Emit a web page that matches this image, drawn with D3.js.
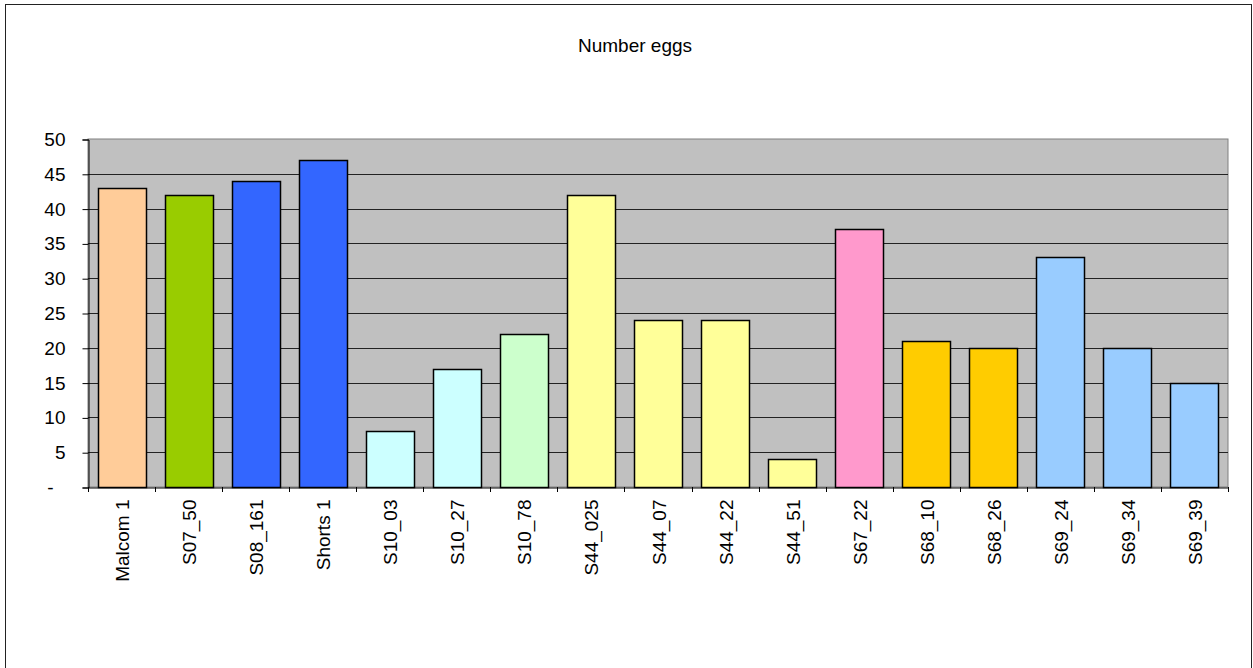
<!DOCTYPE html>
<html>
<head>
<meta charset="utf-8">
<script src="https://cdn.jsdelivr.net/npm/d3@7"></script>
<style>
  html, body { margin: 0; padding: 0; background: #fff; }
  svg { display: block; font-family: Arial, "Liberation Sans", sans-serif; }
</style>
</head>
<body>
<svg id="chart" width="1253" height="668"></svg>
<script>
// Egg counts per line
const categories = ["Malcom 1", "S07_50", "S08_161", "Shorts 1", "S10_03", "S10_27", "S10_78",
  "S44_025", "S44_07", "S44_22", "S44_51", "S67_22", "S68_10", "S68_26", "S69_24", "S69_34", "S69_39"];
const eggs = [43, 42, 44, 47, 8, 17, 22, 42, 24, 24, 4, 37, 21, 20, 33, 20, 15];
const barColors = ["#FFCC99", "#99CC00", "#3366FF", "#3366FF", "#CCFFFF", "#CCFFFF", "#CCFFCC",
  "#FFFF99", "#FFFF99", "#FFFF99", "#FFFF99", "#FF99CC", "#FFCC00", "#FFCC00", "#99CCFF", "#99CCFF", "#99CCFF"];
const yTicks = [0, 5, 10, 15, 20, 25, 30, 35, 40, 45, 50];
const chartTitle = "Number eggs";

(function draw() {
  const svg = d3.select("#chart");
  const plotLeft = 88, plotRight = 1228, plotTop = 139, plotBottom = 487;
  const fontSize = 19;

  // Outer frame
  svg.append("rect")
    .attr("x", 5.5).attr("y", 4.5)
    .attr("width", 1246).attr("height", 670)
    .attr("fill", "#fff").attr("stroke", "#222").attr("stroke-width", 1);

  svg.append("text")
    .attr("x", 635).attr("y", 52)
    .attr("text-anchor", "middle")
    .attr("font-size", fontSize).attr("fill", "#000")
    .text(chartTitle);

  const x = d3.scaleBand().domain(categories).range([plotLeft, plotRight])
    .paddingInner(0.285).paddingOuter(0.1425);
  const y = d3.scaleLinear().domain([0, 50]).range([plotBottom, plotTop]);

  // Plot background
  svg.append("rect")
    .attr("x", plotLeft).attr("y", plotTop)
    .attr("width", plotRight - plotLeft).attr("height", plotBottom - plotTop)
    .attr("fill", "#C0C0C0").attr("stroke", "#808080").attr("stroke-width", 1);

  // Gridlines
  svg.append("g").selectAll("line")
    .data(yTicks.filter(d => d > 0 && d < 50))
    .join("line")
    .attr("x1", plotLeft).attr("x2", plotRight)
    .attr("y1", d => Math.round(y(d)) + 0.5).attr("y2", d => Math.round(y(d)) + 0.5)
    .attr("stroke", "#222").attr("stroke-width", 1);

  // Bars
  svg.append("g").selectAll("rect")
    .data(eggs)
    .join("rect")
    .attr("x", (d, i) => Math.round(x(categories[i])) + 0.5)
    .attr("y", d => Math.round(y(d)) + 0.5)
    .attr("width", Math.round(x.bandwidth()))
    .attr("height", d => Math.round(y(0)) - Math.round(y(d)))
    .attr("fill", (d, i) => barColors[i])
    .attr("stroke", "#000").attr("stroke-width", 1.5);

  // Y axis (zero shown as an accounting-style dash)
  const yAxis = d3.axisLeft(y).tickValues(yTicks).tickSize(6).tickPadding(17)
    .tickFormat(d => d === 0 ? "-" : d);
  const gy = svg.append("g").attr("transform", `translate(${plotLeft + 0.5},0.5)`).call(yAxis);
  gy.select(".domain").attr("stroke", "#000");
  gy.selectAll(".tick line").attr("stroke", "#000");
  gy.selectAll(".tick text").attr("font-size", fontSize).attr("fill", "#000")
    .attr("font-family", "Arial, 'Liberation Sans', sans-serif")
    .attr("dx", d => d === 0 ? -12 : null);

  // X axis: category labels rotated, ticks at category boundaries
  const xAxis = d3.axisBottom(x).tickSize(0).tickPadding(0);
  const gx = svg.append("g").attr("transform", `translate(0,${plotBottom + 0.5})`).call(xAxis);
  gx.select(".domain").attr("stroke", "#000");
  gx.selectAll(".tick text")
    .attr("font-size", fontSize).attr("fill", "#000")
    .attr("font-family", "Arial, 'Liberation Sans', sans-serif")
    .attr("text-anchor", "end")
    .attr("dy", null)
    .attr("transform", "translate(1,12) rotate(-90)")
    .attr("x", 0).attr("y", 0)
    .attr("dominant-baseline", "central");

  const step = x.step();
  const boundaries = d3.range(categories.length + 1).map(i => plotLeft + i * step);
  svg.append("g").selectAll("line")
    .data(boundaries)
    .join("line")
    .attr("x1", d => Math.round(d) + 0.5).attr("x2", d => Math.round(d) + 0.5)
    .attr("y1", plotBottom).attr("y2", plotBottom + 5)
    .attr("stroke", "#000");
})();
</script>
</body>
</html>
